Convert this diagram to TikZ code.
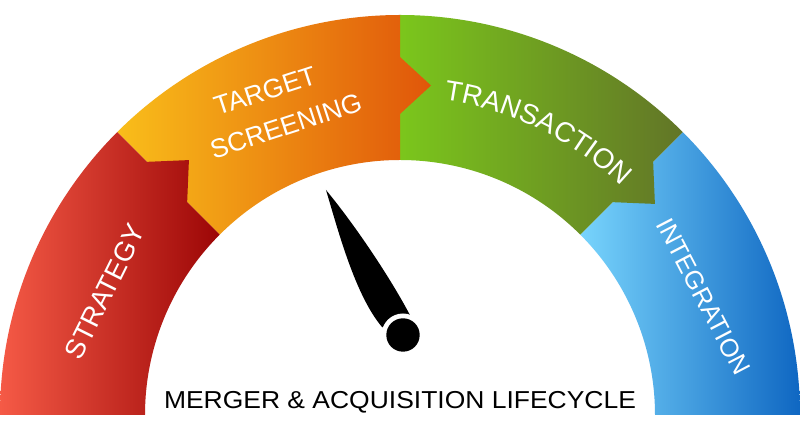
\documentclass[tikz,border=0pt]{standalone}
\usepackage{fontspec}
\setmainfont{Liberation Sans}
\newfontfamily\titlefont[FakeStretch=1.08]{Liberation Sans}
\usetikzlibrary{decorations.text,calc}
\definecolor{redL}{HTML}{F55A46}
\definecolor{redR}{HTML}{9C0606}
\definecolor{orgL}{HTML}{F9BE1A}
\definecolor{orgR}{HTML}{E0560A}
\definecolor{grnL}{HTML}{7BC61C}
\definecolor{grnR}{HTML}{627527}
\definecolor{bluL}{HTML}{78D4FC}
\definecolor{bluR}{HTML}{0F67C2}
\newcommand{\lblfont}[1]{\fontsize{#1}{#1}\selectfont}
\tikzset{
  lbl/.style={text=white, inner sep=0pt, font=\lblfont{#1}},
}
\begin{document}
\begin{tikzpicture}[x=1pt,y=1pt]
\useasboundingbox (-400,-15) rectangle (400,415);
\fill[white] (-400,-15) rectangle (400,415);
% Integration (blue)
\shade[left color=bluL, right color=bluR]
  (45:255pt) -- (45:400pt) arc[start angle=45,end angle=0,radius=400pt]
  -- (0:255pt) arc[start angle=0,end angle=45,radius=255pt] -- cycle;
% Transaction (green) with tab into blue
\shade[left color=grnL, right color=grnR]
  (90:255pt) -- (90:400pt) arc[start angle=90,end angle=45,radius=400pt]
  -- (45:358pt) -- ($(45:329.5pt)+(-45:31pt)$) -- (45:301pt) -- (45:255pt)
  arc[start angle=45,end angle=90,radius=255pt] -- cycle;
% Target screening (orange) with tab into green
\shade[left color=orgL, right color=orgR]
  (135:255pt) -- (135:400pt) arc[start angle=135,end angle=90,radius=400pt]
  -- (90:358pt) -- ($(90:329.5pt)+(0:31pt)$) -- (90:301pt) -- (90:255pt)
  arc[start angle=90,end angle=135,radius=255pt] -- cycle;
% Strategy (red) with tab into orange
\shade[left color=redL, right color=redR]
  (180:255pt) -- (180:400pt) arc[start angle=180,end angle=135,radius=400pt]
  -- (135:358pt) -- ($(135:329.5pt)+(45:31pt)$) -- (135:301pt) -- (135:255pt)
  arc[start angle=135,end angle=180,radius=255pt] -- cycle;
% labels
\node[lbl=27.5, rotate=63.5] (strategy) at (-295,123.5) {STRATEGY};
\node[lbl=26.5, rotate=18] (target) at (-135,324) {TARGET};
\node[lbl=26.5, rotate=18] (screening) at (-114,289) {SCREENING};
\path[decorate, decoration={text along path, text align=center,
  text color=white, text={|\lblfont{28}|TRANSACTION}}]
  (110:318pt) arc[start angle=110,end angle=18,radius=318pt];
\node[lbl=25.5, rotate=-62.5] (integration) at (303.5,118.5) {INTEGRATION};
% needle
\fill[black] (-74,225) .. controls (-62,185) and (-45,120) .. (-18,88)
  -- (3,80) -- (12,96) .. controls (-8,135) and (-45,190) .. (-74,225) -- cycle;
\fill[white] (3,80) circle[radius=21.5pt];
\fill[black] (3,80) circle[radius=16.7pt];
% title
\node[anchor=base, inner sep=0pt, font=\titlefont\fontsize{24.5}{28}\selectfont] (title) at (0,6) {MERGER \& ACQUISITION LIFECYCLE};
\end{tikzpicture}
\end{document}
